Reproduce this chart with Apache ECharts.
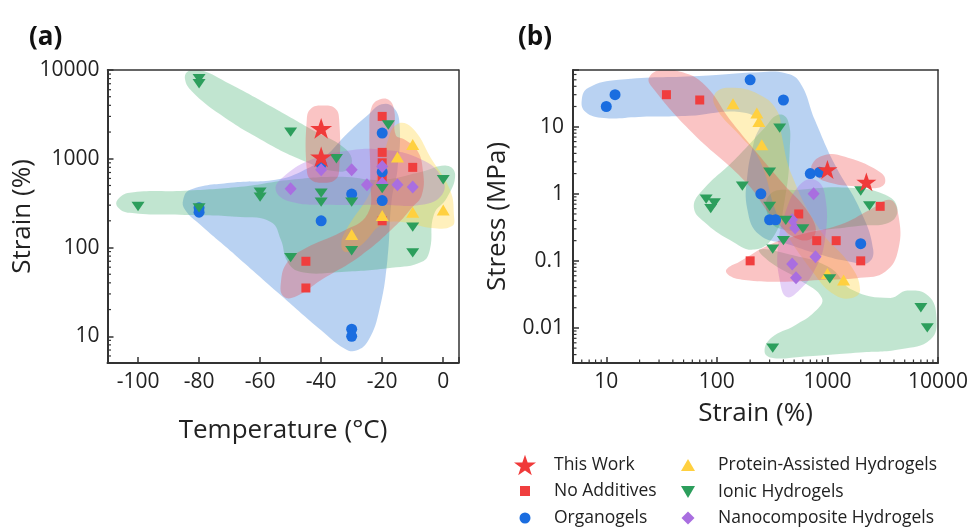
<!DOCTYPE html>
<html>
<head>
<meta charset="utf-8">
<script src="https://cdn.jsdelivr.net/npm/echarts@6/dist/echarts.min.js"></script>
<style>
  html, body { margin: 0; padding: 0; background: #fff; }
  #chart { width: 969px; height: 529px; }
</style>
</head>
<body>
<div id="chart"></div>
<script>
// ---------------- Panel (a): temperature (°C) vs strain (%) ----------------
const tempRange = [-110, 5];
const strainRangeA = [5, 10000];

const thisWorkA = [[-40, 2200], [-40, 1050]];
const noAdditivesA = [[-20, 3000], [-20, 1180], [-20, 900], [-20, 600], [-20, 200], [-10, 800], [-45, 70], [-45, 35]];
const organogelsA = [[-80, 280], [-80, 250], [-40, 200], [-30, 12], [-30, 10], [-40, 870], [-30, 400], [-20, 1950], [-20, 710], [-20, 338]];
const proteinA = [[-10, 1450], [-15, 1050], [-20, 230], [-10, 250], [0, 265], [-30, 140]];
const ionicA = [[-100, 290], [-80, 8000], [-80, 7000], [-80, 280], [-60, 420], [-60, 370], [-50, 2000], [-50, 77],
  [-35, 1000], [-40, 410], [-40, 325], [-30, 325], [-30, 92], [-18, 2400], [-20, 460], [0, 580], [-10, 170], [-10, 87]];
const nanoA = [[-50, 460], [-40, 750], [-30, 750], [-25, 510], [-20, 820], [-20, 530], [-15, 510], [-10, 480]];

// shaded zones around each material family, outlined in data units
const organogelsZoneA = [[-85.2, 345], [-82.9, 448], [-69.7, 537], [-54.9, 581], [-46.6, 715], [-39.1, 1030], [-31.1, 1970],
  [-24.5, 3150], [-20.2, 4100], [-16.3, 3790], [-14.3, 2430], [-15, 753], [-16.9, 345], [-18.3, 72], [-20.9, 20],
  [-24.5, 9], [-28.5, 6.9], [-32.4, 7.3], [-40, 11.7], [-53.2, 29], [-68.1, 82], [-79.6, 180], [-84.6, 266]];
const ionicZoneA1 = [[-83.6, 9670], [-79.6, 10000], [-69.7, 6890], [-56.5, 3900], [-43.3, 2150], [-31.8, 1270], [-30.1, 858],
  [-34.1, 715], [-46.6, 977], [-59.8, 1650], [-73, 3150], [-82.3, 5740], [-84.6, 7850]];
const ionicZoneA2 = [[-106.7, 345], [-102.7, 414], [-84.6, 436], [-66.4, 483], [-49.9, 581], [-33.4, 628], [-20.2, 581],
  [-7, 715], [1.2, 836], [3.9, 661], [1.2, 363], [-3.1, 233], [-4.4, 94], [-7, 69], [-16.9, 59], [-33.4, 53],
  [-46.6, 53], [-51, 69], [-53.2, 122], [-56.5, 194], [-66.4, 221], [-84.6, 233], [-102.7, 246], [-106.7, 287]];
const proteinZoneA = [[-33.4, 107], [-31.8, 158], [-23.5, 448], [-18.6, 1440], [-15.3, 2430], [-10.3, 2250], [-3.7, 977],
  [2.2, 448], [3.5, 233], [2.9, 175], [-3.7, 166], [-13.6, 194], [-20.2, 180], [-26.8, 107], [-31.8, 89]];
const nanoZoneA = [[-54.9, 448], [-51.6, 661], [-43.3, 977], [-33.4, 1200], [-20.2, 1270], [-7, 977], [-0.4, 612],
  [-0.4, 393], [-7, 303], [-20.2, 303], [-36.7, 303], [-49.9, 327]];
const thisWorkZoneA = [[-44.7, 2770], [-43.3, 3690], [-39.4, 3990], [-35.4, 3690], [-34.1, 2770], [-34.1, 753],
  [-35.4, 581], [-39.4, 537], [-43.3, 581], [-44.7, 753]];
const noAdditivesZoneA = [[-23.5, 3790], [-20.9, 4660], [-17.6, 4540], [-16, 3410], [-15.6, 1870], [-12.7, 1650],
  [-8.7, 1270], [-6.7, 753], [-7, 393], [-10.3, 280], [-15.3, 180], [-26.8, 82], [-40, 43], [-48.3, 28], [-52.3, 28],
  [-53.2, 40], [-51, 69], [-45, 99], [-33.4, 150], [-24.8, 239], [-23.9, 581], [-24.2, 2130]];

// ---------------- Panel (b): strain (%) vs stress (MPa) ----------------
const strainRangeB = [5, 10000];
const stressRange = [0.003, 70];

const thisWorkB = [[1000, 2.3], [2250, 1.5]];
const noAdditivesB = [[35, 30], [70, 25], [550, 0.5], [3000, 0.65], [800, 0.2], [1200, 0.2], [2000, 0.1], [200, 0.1]];
const organogelsB = [[10, 20], [12, 30], [200, 50], [400, 25], [250, 1.0], [300, 0.41], [340, 0.41], [700, 2.0], [850, 2.1], [2000, 0.18]];
const proteinB = [[140, 22], [230, 16], [240, 12], [255, 5.4], [1000, 0.065], [1400, 0.052]];
const ionicB = [[370, 9.5], [300, 2.1], [170, 1.3], [80, 0.83], [95, 0.73], [88, 0.6], [300, 0.65], [420, 0.4], [600, 0.3],
  [400, 0.2], [320, 0.15], [1050, 0.054], [7000, 0.02], [8000, 0.01], [320, 0.005], [2000, 1.1], [2400, 0.66]];
const nanoB = [[750, 1.0], [480, 0.41], [510, 0.31], [780, 0.115], [480, 0.09], [520, 0.056]];

const organogelsZoneB = [[6.0, 25], [6.9, 38], [13, 50], [69, 57], [243, 65], [411, 63], [562, 46], [770, 12.6], [1170, 2.7],
  [1974, 0.58], [2593, 0.147], [2334, 0.094], [1602, 0.097], [855, 0.124], [456, 0.174], [243, 0.245], [189, 0.58],
  [189, 1.92], [219, 6.4], [243, 11.8], [160, 16.6], [56, 14.5], [19.7, 14], [9.5, 13.5], [6.5, 16.6]];
const noAdditivesZoneB1 = [[24.3, 53], [30, 70], [41, 70], [74, 45], [138, 11.4], [370, 1.62], [693, 0.49], [770, 0.245],
  [562, 0.207], [333, 0.41], [185, 1.46], [60, 8.1], [25.9, 39]];
const noAdditivesZoneB2 = [[122, 0.074], [160, 0.097], [300, 0.174], [562, 0.245], [1300, 0.346], [2434, 0.58], [3700, 0.81],
  [4375, 0.49], [4375, 0.147], [3333, 0.069], [1974, 0.056], [855, 0.052], [370, 0.049], [178, 0.052], [130, 0.060]];
const thisWorkZoneB = [[723, 2.7], [949, 3.8], [1443, 3.55], [3000, 2.1], [3333, 1.51], [2876, 1.23], [1974, 1.27], [1054, 1.46], [770, 1.92]];
const proteinZoneB = [[95, 30], [130, 38], [243, 30], [355, 16.6], [385, 7.5], [475, 1.92], [855, 0.291], [1602, 0.088],
  [1974, 0.037], [1671, 0.028], [1170, 0.031], [770, 0.062], [370, 0.41], [243, 3.2], [160, 7.5], [101, 17.8]];
const ionicZoneB1 = [[62, 0.62], [72, 1.07], [144, 3.2], [270, 9.6], [355, 15], [437, 12.6], [456, 4.5], [411, 0.81],
  [333, 0.245], [219, 0.147], [130, 0.207], [77, 0.38]];
const ionicZoneB2 = [[300, 0.97], [562, 1.15], [1602, 1.23], [3333, 0.97], [4283, 0.62], [3700, 0.38], [1974, 0.334],
  [855, 0.291], [411, 0.291], [300, 0.41]];
const ionicZoneB3 = [[270, 0.0045], [313, 0.0072], [507, 0.0109], [770, 0.0175], [891, 0.028], [562, 0.052], [300, 0.097],
  [243, 0.147], [456, 0.124], [1054, 0.079], [1671, 0.037], [3700, 0.028], [5280, 0.036], [8200, 0.030], [9680, 0.0143],
  [8550, 0.0067], [4562, 0.0048], [1974, 0.0043], [562, 0.0037], [313, 0.0036]];
const nanoZoneB = [[411, 0.49], [562, 1.36], [770, 1.62], [949, 0.97], [949, 0.207], [770, 0.074], [562, 0.037], [428, 0.029],
  [370, 0.052], [355, 0.147]];

// ---------------- styling ----------------
const FONT = '"Open Sans", "Noto Sans", "DejaVu Sans", sans-serif';
const AXIS_COLOR = '#333';
const TEXT_COLOR = '#222';
const STAR = 'path://M50,0 L61.8,35.1 L98.9,35.1 L69.1,56.7 L80.3,91.9 L50,70.2 L19.7,91.9 L30.9,56.7 L1.1,35.1 L38.2,35.1 Z';
const DOWN_TRIANGLE = 'path://M0,0 L13,0 L6.5,11 Z';

const families = {
  thisWork:    { name: 'This Work', color: '#f03a3a', symbol: STAR, size: 22, zone: 'rgba(240,60,60,0.30)' },
  noAdditives: { name: 'No Additives', color: '#f03e3e', symbol: 'rect', size: 9, zone: 'rgba(240,60,60,0.30)' },
  organogels:  { name: 'Organogels', color: '#1a6de0', symbol: 'circle', size: 11, zone: 'rgba(60,130,220,0.36)' },
  protein:     { name: 'Protein-Assisted Hydrogels', color: '#ffd03f', symbol: 'triangle', size: [13, 11], zone: 'rgba(255,210,60,0.34)' },
  ionic:       { name: 'Ionic Hydrogels', color: '#2c9e5c', symbol: DOWN_TRIANGLE, size: [13, 11], zone: 'rgba(50,170,100,0.30)' },
  nano:        { name: 'Nanocomposite Hydrogels', color: '#a96ee0', symbol: 'diamond', size: [12, 13], zone: 'rgba(170,110,230,0.32)' }
};

function zoneSeries(idx, zones) {
  return {
    type: 'custom', xAxisIndex: idx, yAxisIndex: idx, silent: true, clip: true, z: 1,
    data: zones.map((z, i) => [z.pts[0][0], z.pts[0][1], i]),
    renderItem(params, api) {
      const zone = zones[params.dataIndex];
      return {
        type: 'polygon',
        shape: { points: zone.pts.map(p => api.coord(p)), smooth: 0.45 },
        style: { fill: families[zone.family].zone, stroke: null }
      };
    }
  };
}

function scatter(idx, key, data, sizeOverride) {
  const f = families[key];
  return {
    name: f.name, type: 'scatter', xAxisIndex: idx, yAxisIndex: idx, data: data,
    symbol: f.symbol, symbolSize: sizeOverride || f.size, symbolKeepAspect: true,
    itemStyle: { color: f.color, opacity: 1 }, z: 3, silent: true
  };
}

// minor tick positions of a decade axis: 2..9 times each power of ten inside the range
function logMinorTicks(range) {
  const out = [];
  const lo = Math.floor(Math.log10(range[0]));
  const hi = Math.ceil(Math.log10(range[1]));
  for (let e = lo; e <= hi; e++) {
    for (let m = 2; m <= 9; m++) {
      const v = +(m * Math.pow(10, e)).toPrecision(6);
      if (v > range[0] && v < range[1]) out.push(v);
    }
  }
  return out;
}

function minorTickSeries(idx, dir, values, anchor) {
  return {
    type: 'custom', xAxisIndex: idx, yAxisIndex: idx, silent: true, z: 20, clip: false,
    data: values.map(v => (dir === 'y' ? [anchor, v] : [v, anchor])),
    renderItem(params, api) {
      const cs = params.coordSys;
      const pt = api.coord([api.value(0), api.value(1)]);
      const shape = dir === 'y'
        ? { x1: cs.x, y1: pt[1], x2: cs.x + 3.5, y2: pt[1] }
        : { x1: pt[0], y1: cs.y + cs.height, x2: pt[0], y2: cs.y + cs.height - 3.5 };
      return { type: 'line', shape: shape, style: { stroke: AXIS_COLOR, lineWidth: 1.2 } };
    }
  };
}

function decadeLabel(v) {
  const l = Math.log10(v);
  const e = Math.round(l);
  if (Math.abs(l - e) > 1e-6) return '';
  return e >= 0 ? String(Math.pow(10, e)) : Math.pow(10, e).toFixed(-e);
}

const labelStyle = { fontSize: 21, color: TEXT_COLOR, fontFamily: FONT };
const nameStyle = { fontSize: 26, color: TEXT_COLOR, fontFamily: FONT };
const lineStyle = { color: AXIS_COLOR, width: 2 };
const tickStyle = { inside: true, length: 6, lineStyle: { color: AXIS_COLOR, width: 1.5 } };

function frameAxis(gridIndex, base, position) {
  return Object.assign({}, base, {
    gridIndex: gridIndex, position: position, name: '', z: 10,
    axisLine: { show: true, onZero: false, lineStyle: { color: AXIS_COLOR, width: 1.5 } },
    axisTick: { show: false }, axisLabel: { show: false }, splitLine: { show: false }
  });
}

const xA = {
  type: 'value', min: tempRange[0], max: tempRange[1], splitNumber: 6, minInterval: 20, maxInterval: 20
};
const yA = { type: 'log', logBase: 10, min: strainRangeA[0], max: strainRangeA[1] };
const xB = { type: 'log', logBase: 10, min: strainRangeB[0], max: strainRangeB[1] };
const yB = { type: 'log', logBase: 10, min: stressRange[0], max: stressRange[1] };

const zonesA = [
  { family: 'organogels', pts: organogelsZoneA },
  { family: 'ionic', pts: ionicZoneA1 },
  { family: 'ionic', pts: ionicZoneA2 },
  { family: 'protein', pts: proteinZoneA },
  { family: 'nano', pts: nanoZoneA },
  { family: 'noAdditives', pts: noAdditivesZoneA },
  { family: 'thisWork', pts: thisWorkZoneA }
];
const zonesB = [
  { family: 'organogels', pts: organogelsZoneB },
  { family: 'ionic', pts: ionicZoneB1 },
  { family: 'ionic', pts: ionicZoneB2 },
  { family: 'ionic', pts: ionicZoneB3 },
  { family: 'protein', pts: proteinZoneB },
  { family: 'nano', pts: nanoZoneB },
  { family: 'noAdditives', pts: noAdditivesZoneB1 },
  { family: 'noAdditives', pts: noAdditivesZoneB2 },
  { family: 'thisWork', pts: thisWorkZoneB }
];

function legendRow(key, left, top, w, h, pad) {
  return {
    data: [families[key].name], left: left, top: top, orient: 'vertical', padding: 0, itemGap: 0,
    itemWidth: w, itemHeight: h, selectedMode: false, symbolKeepAspect: true,
    textStyle: { fontSize: 17.5, color: TEXT_COLOR, fontFamily: FONT, lineHeight: 22, padding: [0, 0, 0, pad] }
  };
}

const chart = echarts.init(document.getElementById('chart'), null, { renderer: 'canvas' });
chart.setOption({
  animation: false,
  backgroundColor: '#fff',
  title: [
    { text: '(a)', left: 29, top: 25, padding: 0, textStyle: { fontSize: 26, fontWeight: 'bold', color: '#111', fontFamily: FONT } },
    { text: '(b)', left: 518, top: 25, padding: 0, textStyle: { fontSize: 26, fontWeight: 'bold', color: '#111', fontFamily: FONT } }
  ],
  grid: [
    { left: 107.5, top: 70, width: 351, height: 293, outerBoundsMode: 'none', containLabel: false },
    { left: 573, top: 70, width: 365, height: 293, outerBoundsMode: 'none', containLabel: false }
  ],
  xAxis: [
    Object.assign({}, xA, {
      gridIndex: 0, position: 'bottom', z: 10,
      axisLine: { show: true, onZero: false, lineStyle: lineStyle }, axisTick: tickStyle,
      axisLabel: Object.assign({ margin: 9, formatter: v => (v % 20 === 0 ? String(v) : '') }, labelStyle),
      splitLine: { show: false },
      name: 'Temperature (°C)', nameLocation: 'middle', nameGap: 55, nameTextStyle: nameStyle
    }),
    Object.assign({}, xB, {
      gridIndex: 1, position: 'bottom', z: 10,
      axisLine: { show: true, onZero: false, lineStyle: lineStyle }, axisTick: tickStyle,
      axisLabel: Object.assign({ margin: 9, formatter: decadeLabel }, labelStyle),
      splitLine: { show: false }, minorTick: { show: false },
      name: 'Strain (%)', nameLocation: 'middle', nameGap: 38, nameTextStyle: nameStyle
    }),
    frameAxis(0, xA, 'top'),
    frameAxis(1, xB, 'top')
  ],
  yAxis: [
    Object.assign({}, yA, {
      gridIndex: 0, position: 'left', z: 10,
      axisLine: { show: true, onZero: false, lineStyle: lineStyle }, axisTick: tickStyle,
      axisLabel: Object.assign({ margin: 8, formatter: decadeLabel }, labelStyle),
      splitLine: { show: false },
      name: 'Strain (%)', nameLocation: 'middle', nameGap: 67, nameTextStyle: nameStyle
    }),
    Object.assign({}, yB, {
      gridIndex: 1, position: 'left', z: 10,
      axisLine: { show: true, onZero: false, lineStyle: lineStyle }, axisTick: tickStyle,
      axisLabel: Object.assign({ margin: 9, formatter: decadeLabel }, labelStyle),
      splitLine: { show: false },
      name: 'Stress (MPa)', nameLocation: 'middle', nameGap: 62, nameTextStyle: nameStyle
    }),
    frameAxis(0, yA, 'right'),
    frameAxis(1, yB, 'right')
  ],
  legend: [
    legendRow('thisWork', 514, 454, 22, 22, 13),
    legendRow('noAdditives', 520, 480, 10, 10, 19),
    legendRow('organogels', 519.5, 507, 11, 11, 18.5),
    legendRow('protein', 681, 454, 14, 12, 18),
    legendRow('ionic', 681, 481, 14, 12, 18),
    legendRow('nano', 681.5, 507, 13, 13, 18.5)
  ],
  series: [
    zoneSeries(0, zonesA),
    zoneSeries(1, zonesB),
    scatter(0, 'noAdditives', noAdditivesA),
    scatter(0, 'organogels', organogelsA),
    scatter(0, 'nano', nanoA),
    scatter(0, 'protein', proteinA),
    scatter(0, 'ionic', ionicA),
    scatter(0, 'thisWork', thisWorkA),
    scatter(1, 'noAdditives', noAdditivesB),
    scatter(1, 'organogels', organogelsB),
    scatter(1, 'nano', nanoB),
    scatter(1, 'protein', proteinB),
    scatter(1, 'ionic', ionicB),
    scatter(1, 'thisWork', thisWorkB, 20),
    minorTickSeries(0, 'y', logMinorTicks(strainRangeA), tempRange[0]),
    minorTickSeries(1, 'y', logMinorTicks(stressRange), strainRangeB[0]),
    minorTickSeries(1, 'x', logMinorTicks(strainRangeB), stressRange[0])
  ]
});
</script>
</body>
</html>
